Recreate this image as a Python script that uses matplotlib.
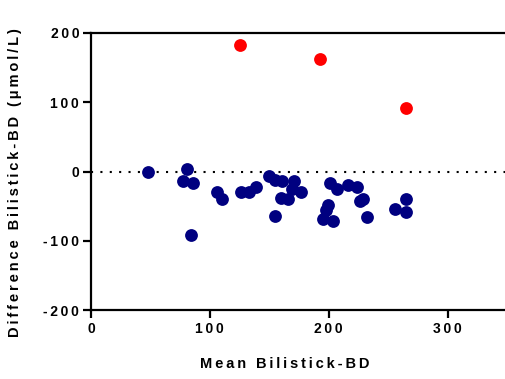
import matplotlib
matplotlib.use("Agg")
import matplotlib.pyplot as plt

# Bland-Altman style data
mean_blue = [48, 81, 77, 86, 84, 106, 110, 126, 133, 139, 150, 155, 161, 171,
             169, 177, 160, 166, 155, 201, 207, 216, 224, 226, 229, 199, 198,
             195, 204, 232, 256, 265, 265]
diff_blue = [0, 3, -14, -17, -91, -29, -39, -29, -29, -23, -7, -12, -14, -14,
             -25, -29, -38, -39, -64, -17, -25, -19, -23, -43, -39, -48, -55,
             -68, -71, -65, -54, -39, -59]
mean_red = [125, 193, 265]
diff_red = [183, 162, 91]

x_ticks = [0, 100, 200, 300]
y_ticks = [-200, -100, 0, 100, 200]

SP = "\u2009"


def spaced(s):
    return SP.join(s)


plt.rcParams['font.family'] = ['Liberation Sans', 'DejaVu Sans']
plt.rcParams['font.weight'] = 'bold'

fig = plt.figure(figsize=(5.05, 3.79), dpi=100)
ax = fig.add_axes([91 / 505, 1 - 310 / 379, 416 / 505, (310 - 33) / 379])

ax.axhline(0, color='black', lw=1.5, ls=(0, (1, 3.5)), zorder=1)
ax.scatter(mean_blue, diff_blue, s=85, color='#000080', zorder=3, linewidths=0)
ax.scatter(mean_red, diff_red, s=85, color='#ff0000', zorder=3, linewidths=0)

ax.set_xlim(0, 350)
ax.set_ylim(-200, 200)
ax.set_xticks(x_ticks)
ax.set_yticks(y_ticks)
ax.set_xticklabels([spaced(str(t)) for t in x_ticks])
ax.set_yticklabels([spaced(str(t)) for t in y_ticks])

for side in ['left', 'bottom', 'top']:
    ax.spines[side].set_linewidth(1.6)
ax.spines['right'].set_visible(False)
ax.tick_params(length=5.5, width=1.6, labelsize=10, pad=3)

ax.set_xlabel(spaced("Mean Bilistick-BD"), fontsize=10.5, fontweight='bold')
ax.set_ylabel(spaced("Difference Bilistick-BD (μmol/L)"), fontsize=10.5,
              fontweight='bold')
ax.xaxis.set_label_coords(0.466, -0.17)
ax.yaxis.set_label_coords(-0.165, 0.46)

fig.savefig("out.png", dpi=100)
